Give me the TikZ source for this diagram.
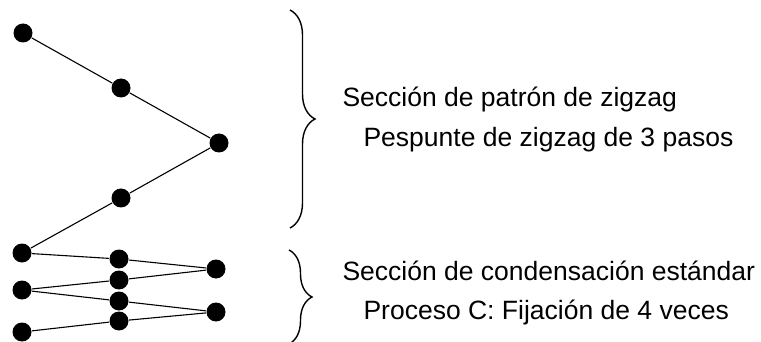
\documentclass[tikz,border=0pt]{standalone}
\usepackage{fontspec}
\setmainfont{Liberation Sans}
\usetikzlibrary{positioning,decorations.pathreplacing}
\begin{document}
\begin{tikzpicture}[x=1pt,y=-1pt,line width=1.1pt,
  dot/.style={circle,fill=black,inner sep=0pt,minimum size=19pt},
  curly/.style={decorate,decoration={brace,amplitude=#1},line width=1.4pt},
  lbl/.style={anchor=base west,inner sep=0pt,font=\fontsize{26.5}{30}\selectfont}]
\useasboundingbox (0,0) rectangle (761,342);
% --- zigzag section ---
\foreach \x/\y/\n in {23/33/1,121/88/2,219/143/3,121/198/4} {\node[dot] (Z\n) at (\x,\y) {};}
% --- condensation section ---
\foreach \y/\n in {253/1,290/2,332/3} {\node[dot] (L\n) at (22,\y) {};}
\foreach \y/\n in {259/1,280/2,301/3,321/4} {\node[dot] (M\n) at (119,\y) {};}
\foreach \y/\n in {269/1,312/2} {\node[dot] (R\n) at (216,\y) {};}
\draw (Z1) -- (Z2) -- (Z3) -- (Z4) -- (L1);
\draw (L1) -- (M1) -- (R1) -- (M2) -- (L2);
\draw (L2) -- (M3) -- (R2) -- (M4) -- (L3);
% --- braces and labels ---
\coordinate (ZT) at (290,10);
\coordinate (ZB) at (290,228);
\coordinate (CT) at (289,250);
\coordinate (CB) at (289,344);
\draw[curly=25pt] (ZT) -- (ZB);
\draw[curly=23pt] (CT) -- (CB);
\node[lbl] (zig1) at (342,107) {Sección de patrón de zigzag};
\node[lbl] (zig2) at (363,147) {Pespunte de zigzag de 3 pasos};
\node[lbl] (con1) at (342,280) {Sección de condensación estándar};
\node[lbl] (con2) at (363,319) {Proceso C: Fijación de 4 veces};
\end{tikzpicture}
\end{document}
